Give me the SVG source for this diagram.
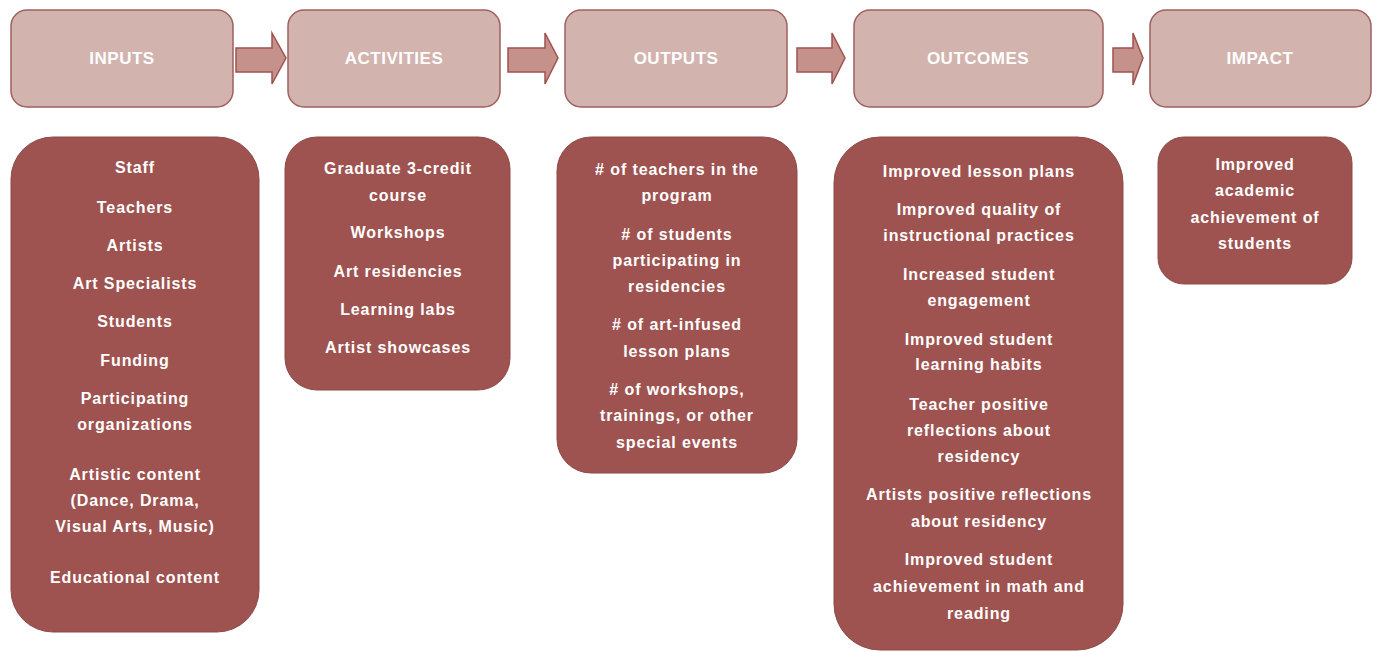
<svg xmlns="http://www.w3.org/2000/svg" width="1377" height="652" viewBox="0 0 1377 652">
<defs>
<style>
.hdr{fill:#D2B3AE;stroke:#A0605C;stroke-width:1.5}
.body{fill:#9E5350;stroke:#8E4A47;stroke-width:1}
.arrow{fill:#C4918B;stroke:#A0524F;stroke-width:1.5}
.ht{font-family:"Liberation Sans",Arial,sans-serif;font-weight:bold;font-size:17px;fill:#FFFFFF;text-anchor:middle;letter-spacing:0.5px}
.bt{font-family:"Liberation Sans",Arial,sans-serif;font-weight:bold;font-size:16px;fill:#FFFFFF;text-anchor:middle;letter-spacing:0.9px}
</style>
</defs>
<rect width="1377" height="652" fill="#FFFFFF"/>

<g id="connectors">
<path class="arrow" d="M236,48 H272 V33 L286,58 L272,84 V72 H236 Z"/>
<path class="arrow" d="M508,48 H545 V33 L558,58 L545,84 V72 H508 Z"/>
<path class="arrow" d="M797,48 H832 V33 L845,58 L832,84 V72 H797 Z"/>
<path class="arrow" d="M1113,48 H1133 V33 L1143,58 L1133,85 V72 H1113 Z"/>
</g>

<g id="inputs-header">
<rect class="hdr" x="11" y="10" width="222" height="97" rx="16"/>
<text class="ht" x="122" y="64">INPUTS</text>
</g>
<g id="activities-header">
<rect class="hdr" x="288" y="10" width="212" height="97" rx="16"/>
<text class="ht" x="394" y="64">ACTIVITIES</text>
</g>
<g id="outputs-header">
<rect class="hdr" x="565" y="10" width="222" height="97" rx="16"/>
<text class="ht" x="676" y="64">OUTPUTS</text>
</g>
<g id="outcomes-header">
<rect class="hdr" x="854" y="10" width="249" height="97" rx="16"/>
<text class="ht" x="978" y="64">OUTCOMES</text>
</g>
<g id="impact-header">
<rect class="hdr" x="1150" y="10" width="221" height="97" rx="16"/>
<text class="ht" x="1260" y="64">IMPACT</text>
</g>

<g id="inputs-body">
<rect class="body" x="11" y="137" width="248" height="495" rx="42"/>
<text class="bt" x="135" y="173">Staff</text>
<text class="bt" x="135" y="213">Teachers</text>
<text class="bt" x="135" y="251">Artists</text>
<text class="bt" x="135" y="289">Art Specialists</text>
<text class="bt" x="135" y="327">Students</text>
<text class="bt" x="135" y="366">Funding</text>
<text class="bt" x="135" y="404">Participating</text>
<text class="bt" x="135" y="430">organizations</text>
<text class="bt" x="135" y="480">Artistic content</text>
<text class="bt" x="135" y="506">(Dance, Drama,</text>
<text class="bt" x="135" y="532">Visual Arts, Music)</text>
<text class="bt" x="135" y="583">Educational content</text>
</g>

<g id="activities-body">
<rect class="body" x="285" y="137" width="225" height="253" rx="32"/>
<text class="bt" x="398" y="174">Graduate 3-credit</text>
<text class="bt" x="398" y="201">course</text>
<text class="bt" x="398" y="238">Workshops</text>
<text class="bt" x="398" y="277">Art residencies</text>
<text class="bt" x="398" y="315">Learning labs</text>
<text class="bt" x="398" y="353">Artist showcases</text>
</g>

<g id="outputs-body">
<rect class="body" x="557" y="137" width="240" height="336" rx="34"/>
<text class="bt" x="677" y="175"># of teachers in the</text>
<text class="bt" x="677" y="201">program</text>
<text class="bt" x="677" y="240"># of students</text>
<text class="bt" x="677" y="266">participating in</text>
<text class="bt" x="677" y="292">residencies</text>
<text class="bt" x="677" y="330"># of art-infused</text>
<text class="bt" x="677" y="357">lesson plans</text>
<text class="bt" x="677" y="395"># of workshops,</text>
<text class="bt" x="677" y="421">trainings, or other</text>
<text class="bt" x="677" y="448">special events</text>
</g>

<g id="outcomes-body">
<rect class="body" x="834" y="137" width="289" height="513" rx="46"/>
<text class="bt" x="979" y="177">Improved lesson plans</text>
<text class="bt" x="979" y="215">Improved quality of</text>
<text class="bt" x="979" y="241">instructional practices</text>
<text class="bt" x="979" y="280">Increased student</text>
<text class="bt" x="979" y="306">engagement</text>
<text class="bt" x="979" y="345">Improved student</text>
<text class="bt" x="979" y="370">learning habits</text>
<text class="bt" x="979" y="410">Teacher positive</text>
<text class="bt" x="979" y="436">reflections about</text>
<text class="bt" x="979" y="462">residency</text>
<text class="bt" x="979" y="500">Artists positive reflections</text>
<text class="bt" x="979" y="527">about residency</text>
<text class="bt" x="979" y="565">Improved student</text>
<text class="bt" x="979" y="592">achievement in math and</text>
<text class="bt" x="979" y="619">reading</text>
</g>

<g id="impact-body">
<rect class="body" x="1158" y="137" width="194" height="147" rx="26"/>
<text class="bt" x="1255" y="170">Improved</text>
<text class="bt" x="1255" y="196">academic</text>
<text class="bt" x="1255" y="223">achievement of</text>
<text class="bt" x="1255" y="249">students</text>
</g>
</svg>
